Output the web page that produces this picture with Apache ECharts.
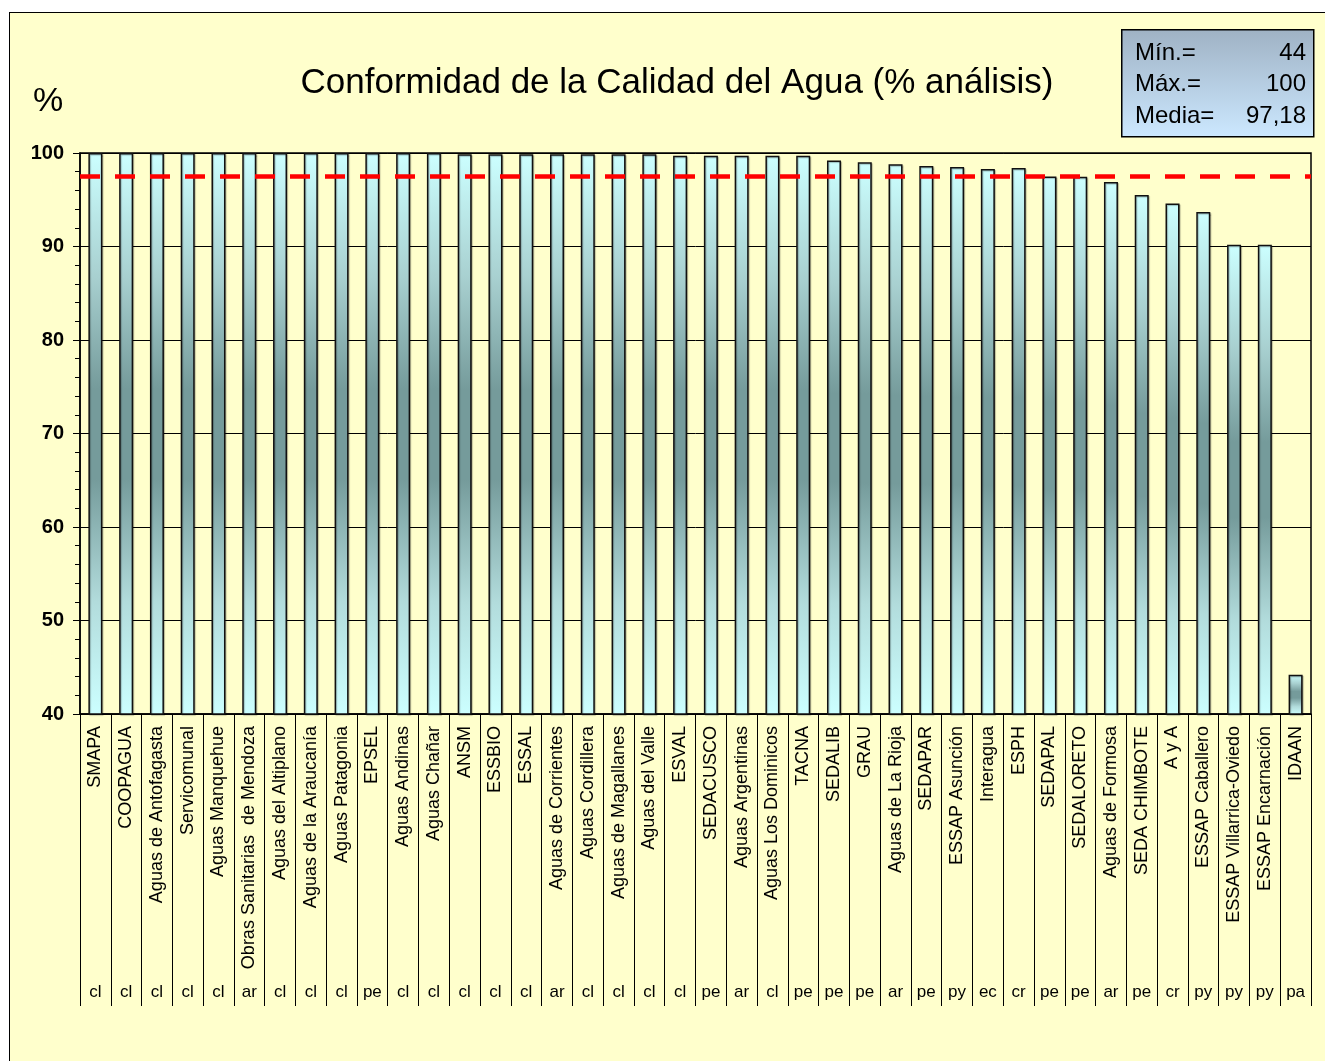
<!DOCTYPE html>
<html>
<head>
<meta charset="utf-8">
<title>Conformidad de la Calidad del Agua</title>
<script src="https://cdn.jsdelivr.net/npm/echarts@6/dist/echarts.min.js"></script>
<style>
  html, body { margin: 0; padding: 0; background: #fff; }
  .frame {
    position: absolute; left: 9px; top: 12px; right: 0; bottom: 0;
    background: #ffffcc;
    border-left: 1.5px solid #000; border-top: 1.5px solid #000;
  }
  #chart { position: absolute; left: 0; top: 0; width: 1325px; height: 1061px; }
</style>
</head>
<body>
<div class="frame"></div>
<div id="chart"></div>
<script>
// empresas (orden del gráfico)
const empresas = [
  'SMAPA', 'COOPAGUA', 'Aguas de Antofagasta', 'Servicomunal', 'Aguas Manquehue',
  'Obras Sanitarias  de Mendoza', 'Aguas del Altiplano', 'Aguas de la Araucanía', 'Aguas Patagonia', 'EPSEL',
  'Aguas Andinas', 'Aguas Chañar', 'ANSM', 'ESSBIO', 'ESSAL',
  'Aguas de Corrientes', 'Aguas Cordillera', 'Aguas de Magallanes', 'Aguas del Valle', 'ESVAL',
  'SEDACUSCO', 'Aguas Argentinas', 'Aguas Los Dominicos', 'TACNA', 'SEDALIB',
  'GRAU', 'Aguas de La Rioja', 'SEDAPAR', 'ESSAP Asunción', 'Interagua',
  'ESPH', 'SEDAPAL', 'SEDALORETO', 'Aguas de Formosa', 'SEDA CHIMBOTE',
  'A y A', 'ESSAP Caballero', 'ESSAP Villarrica-Oviedo', 'ESSAP Encarnación', 'IDAAN'
];
const paises = [
  'cl', 'cl', 'cl', 'cl', 'cl', 'ar', 'cl', 'cl', 'cl', 'pe',
  'cl', 'cl', 'cl', 'cl', 'cl', 'ar', 'cl', 'cl', 'cl', 'cl',
  'pe', 'ar', 'cl', 'pe', 'pe', 'pe', 'ar', 'pe', 'py', 'ec',
  'cr', 'pe', 'pe', 'ar', 'pe', 'cr', 'py', 'py', 'py', 'pa'
];
// % de análisis conformes
const conformidad = [
  100, 100, 100, 100, 100, 100, 100, 100, 100, 100,
  100, 100, 99.86, 99.86, 99.86, 99.86, 99.86, 99.86, 99.86, 99.7,
  99.7, 99.7, 99.7, 99.7, 99.2, 99.0, 98.8, 98.6, 98.5, 98.3,
  98.4, 97.5, 97.45, 96.9, 95.5, 94.6, 93.7, 90.2, 90.2, 44.2
];
const lineaMedia = 97.5;
const resumen = [['Mín.=', '44'], ['Máx.=', '100'], ['Media=', '97,18']];

const FONT = '"Liberation Sans", Arial, sans-serif';

const chart = echarts.init(document.getElementById('chart'));

// recuadro con mínimo / máximo / media
const boxX = 1121, boxY = 29, boxW = 192, boxH = 107;
const resumenTexts = [];
resumen.forEach((r, i) => {
  const y = boxY + 25 + i * 31.5;
  resumenTexts.push({
    type: 'text', left: boxX + 14, top: y - 13, z: 11,
    style: { text: r[0], font: '24px ' + FONT, fill: '#000' }
  });
  resumenTexts.push({
    type: 'text', right: 1325 - (boxX + boxW - 7), top: y - 13, z: 11,
    style: { text: r[1], font: '24px ' + FONT, fill: '#000', textAlign: 'right' }
  });
});

chart.setOption({
  backgroundColor: 'transparent',
  animation: false,
  title: {
    text: 'Conformidad de la Calidad del Agua (% análisis)',
    left: 672, top: 61, textAlign: 'center',
    textStyle: { fontFamily: FONT, fontSize: 35, fontWeight: 'normal', color: '#000' }
  },
  graphic: [
    {
      type: 'text', left: 33, top: 85,
      style: { text: '%', font: '34px ' + FONT, fill: '#000' }
    },
    {
      type: 'rect', left: boxX, top: boxY, z: 10,
      shape: { width: boxW, height: boxH },
      style: {
        fill: new echarts.graphic.LinearGradient(0, 0, 0, 1, [
          { offset: 0, color: '#9fb2c4' },
          { offset: 1, color: '#cce8ff' }
        ]),
        stroke: '#000', lineWidth: 1.5
      }
    }
  ].concat(resumenTexts),
  grid: {
    left: 80, right: 14, top: 153, bottom: 347,
    show: true, borderColor: '#000', borderWidth: 1.5, backgroundColor: 'transparent'
  },
  xAxis: [
    {
      type: 'category',
      data: empresas,
      position: 'bottom',
      axisLine: { lineStyle: { color: '#000', width: 1.5 } },
      axisTick: { show: true, interval: 0, length: 292, lineStyle: { color: '#000', width: 1 } },
      axisLabel: {
        interval: 0, rotate: 90, margin: 12,
        fontFamily: FONT, fontSize: 18, color: '#000'
      }
    },
    {
      type: 'category',
      data: paises,
      position: 'bottom',
      axisLine: { show: false },
      axisTick: { show: false },
      axisLabel: {
        interval: 0, margin: 270,
        fontFamily: FONT, fontSize: 17, color: '#000'
      }
    }
  ],
  yAxis: {
    type: 'value',
    min: 40, max: 100, interval: 10,
    axisLine: { show: true, lineStyle: { color: '#000', width: 1.5 } },
    axisTick: { show: true, length: 7, lineStyle: { color: '#000' } },
    minorTick: { show: true, splitNumber: 5, length: 5, lineStyle: { color: '#000' } },
    splitLine: { show: true, lineStyle: { color: '#000', width: 1 } },
    axisLabel: {
      margin: 16,
      fontFamily: FONT, fontSize: 20, fontWeight: 'bold', color: '#000'
    }
  },
  series: [
    {
      type: 'bar',
      data: conformidad,
      barWidth: 14,
      itemStyle: {
        color: new echarts.graphic.LinearGradient(0, 0, 0, 1, [
          { offset: 0, color: '#ccffff' },
          { offset: 0.22, color: '#a8d0d0' },
          { offset: 0.42, color: '#759b9b' },
          { offset: 0.58, color: '#759b9b' },
          { offset: 0.8, color: '#b2dcdc' },
          { offset: 1, color: '#ccffff' }
        ]),
        borderColor: '#111',
        borderWidth: 1.5,
        shadowColor: 'rgba(0,0,0,0.25)',
        shadowOffsetX: 1,
        shadowOffsetY: 1,
        shadowBlur: 1
      },
      markLine: {
        silent: true,
        symbol: 'none',
        label: { show: false },
        lineStyle: { color: '#ff0000', type: [20, 15], width: 4.5 },
        data: [{ yAxis: lineaMedia }]
      }
    }
  ]
});
</script>
</body>
</html>
